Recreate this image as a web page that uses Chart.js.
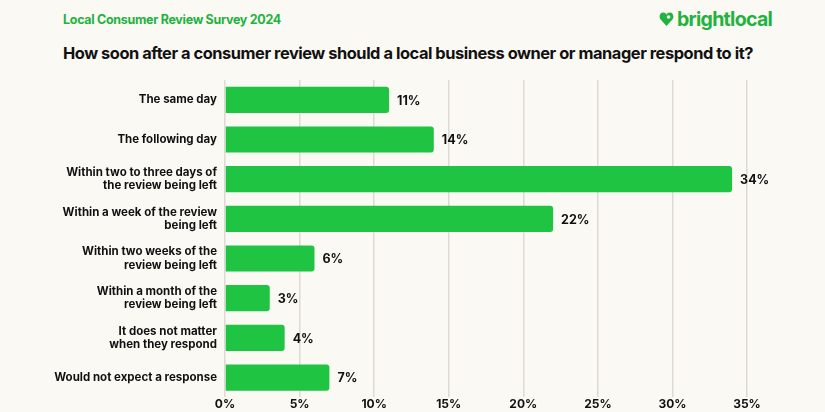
<!DOCTYPE html>
<html>
<head>
<meta charset="utf-8">
<script src="https://cdn.jsdelivr.net/npm/chart.js@4.4.1/dist/chart.umd.min.js"></script>
<style>
  html, body { margin: 0; padding: 0; background: #fbf9f3; }
  #wrap { position: relative; width: 825px; height: 412px; overflow: hidden; font-family: Inter, sans-serif; }
  #survey { position: absolute; left: 63px; top: 12px; font-size: 12.5px; font-weight: 700; color: #22b23f; letter-spacing: -0.3px; }
  #question { position: absolute; left: 63px; top: 43px; font-size: 16.4px; font-weight: 700; color: #111; letter-spacing: -0.45px; white-space: nowrap; }
  #logo { position: absolute; left: 659px; top: 7px; font-size: 19.5px; font-weight: 700; color: #22b23f; letter-spacing: -0.7px; display: flex; align-items: center; }
  #logo svg { margin-right: 3px; }
  #chart { position: absolute; left: 0; top: 0; }
</style>
</head>
<body>
<div id="wrap">
  <div id="survey">Local Consumer Review Survey 2024</div>
  <div id="logo"><svg width="15" height="16" viewBox="0 0 15 16"><path d="M7.5 15 L1.6 8.6 C-0.4 6.4 0.6 1.5 4.2 1.5 C5.8 1.5 6.8 2.4 7.5 3.4 C8.2 2.4 9.2 1.5 10.8 1.5 C14.4 1.5 15.4 6.4 13.4 8.6 Z" fill="#22b23f"/><circle cx="9.6" cy="6" r="1.8" fill="#fbf9f3"/></svg>brightlocal</div>
  <div id="question">How soon after a consumer review should a local business owner or manager respond to it?</div>
  <canvas id="chart" width="825" height="412"></canvas>
</div>
<script>
const Answers = [
  'The same day',
  'The following day',
  ['Within two to three days of', 'the review being left'],
  ['Within a week of the review', 'being left'],
  ['Within two weeks of the', 'review being left'],
  ['Within a month of the', 'review being left'],
  ['It does not matter', 'when they respond'],
  'Would not expect a response'
]
const Share = [11, 14, 34, 22, 6, 3, 4, 7]
const TickValues = [0, 5, 10, 15, 20, 25, 30, 35]

const valueLabels = {
  id: 'valueLabels',
  afterDatasetsDraw(chart) {
    const ctx = chart.ctx;
    const meta = chart.getDatasetMeta(0);
    ctx.save();
    ctx.font = '700 12.5px Inter';
    ctx.fillStyle = '#111';
    ctx.textBaseline = 'middle';
    ctx.textAlign = 'left';
    meta.data.forEach((bar, i) => {
      ctx.fillText(Share[i] + '%', bar.x + 8, bar.y + 1);
    });
    ctx.restore();
  }
};

const ctx = document.getElementById('chart').getContext('2d');
const myChart = new Chart(ctx, {
  type: 'bar',
  data: {
    labels: Answers,
    datasets: [{
      data: Share,
      backgroundColor: '#1fc443',
      borderRadius: 3,
      borderSkipped: 'start',
      categoryPercentage: 0.66,
      barPercentage: 1
    }]
  },
  options: {
    indexAxis: 'y',
    responsive: false,
    animation: false,
    layout: {
      padding: { top: 80, right: 78, left: 0, bottom: 0 }
    },
    scales: {
      x: {
        min: 0,
        max: 35,
        afterBuildTicks: (scale) => { scale.ticks = TickValues.map(v => ({ value: v })); },
        afterFit: (scale) => { scale.height = 13; },
        grid: { color: '#dddad3', lineWidth: 1.5, drawTicks: false },
        border: { display: false },
        ticks: {
          padding: 0,
          color: '#111',
          font: { family: 'Inter', size: 12, weight: '700' },
          callback: (v) => v + '%'
        }
      },
      y: {
        afterFit: (scale) => { scale.width = 225; },
        grid: { display: false, drawTicks: false },
        border: { display: false },
        ticks: {
          padding: 8,
          color: '#111',
          font: { family: 'Inter', size: 11.5, weight: '700', lineHeight: 1.15 }
        }
      }
    },
    plugins: {
      legend: { display: false },
      tooltip: { enabled: false }
    }
  },
  plugins: [valueLabels]
});
</script>
</body>
</html>
